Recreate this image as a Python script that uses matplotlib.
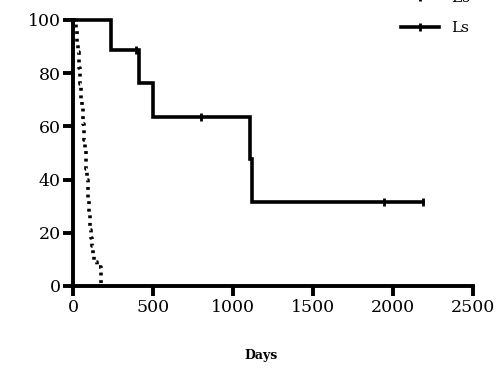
import matplotlib.pyplot as plt
from matplotlib.lines import Line2D

# Ls arm: step times (days) and percent surviving
ls_days = [0, 235, 412, 502, 1104, 1119, 2190]
ls_surv = [100, 88.9, 76.2, 63.5, 47.6, 31.7, 31.7]
ls_cens_days = [396, 798, 1945, 2188]
ls_cens_surv = [88.9, 63.5, 31.7, 31.7]

# Es arm: steep decline within the first months
es_days = [0, 18, 24, 28, 32, 36, 40, 43, 46, 50, 53, 56, 60, 63, 66, 70, 75, 79,
           84, 88, 91, 94, 98, 101, 104, 108, 112, 117, 124, 131, 150, 175]
es_surv = [100, 97, 94, 91, 88, 85, 82, 79, 76, 73, 70, 67, 64, 61, 58, 55, 52, 48,
           44, 40, 36, 33, 30, 27, 24, 21, 18, 15, 12, 9, 7, 0]

x_ticks = [0, 500, 1000, 1500, 2000, 2500]
y_ticks = [0, 20, 40, 60, 80, 100]

plt.rcParams['font.family'] = 'DejaVu Serif'

fig = plt.figure(figsize=(5.04, 3.76), dpi=100)
ax = fig.add_axes([73/504, 1 - 286/376, 400/504, 266/376])

es_style = dict(color='black', lw=2.6, linestyle=(0, (0.8, 1.3)))
ls_style = dict(color='black', lw=2.6, solid_joinstyle='miter')

ax.step(es_days, es_surv, where='post', clip_on=False, **es_style)
ax.step(ls_days, ls_surv, where='post', clip_on=False, **ls_style)
ax.plot(ls_cens_days, ls_cens_surv, linestyle='none', marker='|', color='black',
        markersize=6, markeredgewidth=2, clip_on=False)

ax.set_xlim(0, 2500)
ax.set_ylim(0, 100)
ax.set_xticks(x_ticks)
ax.set_yticks(y_ticks)
ax.tick_params(labelsize=12.5, width=2.8, length=7, pad=2)
for side in ['top', 'right']:
    ax.spines[side].set_visible(False)
for side in ['left', 'bottom']:
    ax.spines[side].set_linewidth(2.8)

ax.set_xlabel('Days', fontsize=9, fontweight='bold')
ax.xaxis.set_label_coords(0.47, -0.235)

handles = [Line2D([], [], marker='|', markersize=6, markeredgewidth=2, **es_style),
           Line2D([], [], marker='|', markersize=6, markeredgewidth=2, **ls_style)]
ax.legend(handles, ['Es', 'Ls'], loc='upper left',
          bbox_to_anchor=(401/504, 1 + 9/376), bbox_transform=fig.transFigure,
          frameon=False, fontsize=11, numpoints=1, handlelength=2.5,
          handletextpad=0.8, labelspacing=1.05, borderaxespad=0, borderpad=0)

fig.savefig('out.png', dpi=100)
